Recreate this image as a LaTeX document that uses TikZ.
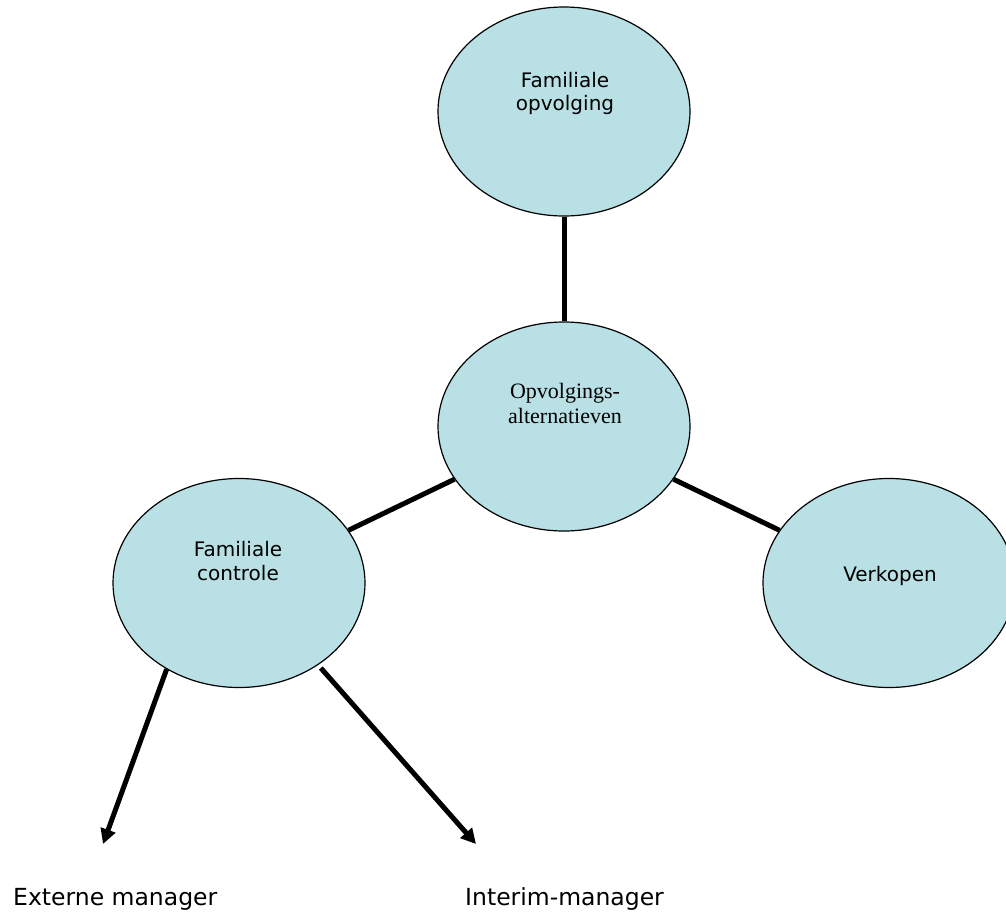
\documentclass[tikz,border=0pt]{standalone}
\usepackage{fontspec}
\usetikzlibrary{shapes.geometric,arrows.meta}
\newfontfamily\labelsans{DejaVu Sans}
\newfontfamily\labelserif{Liberation Serif}
\definecolor{bubblefill}{RGB}{185,224,228}
\begin{document}
\begin{tikzpicture}[x=1pt,y=-1pt,
  bubble/.style={ellipse, draw=black, line width=1.2pt, fill=bubblefill,
    minimum width=252pt, minimum height=209pt, inner sep=0pt},
  sanstext/.style={anchor=base, inner sep=0pt,
    font=\labelsans\fontsize{20}{23}\selectfont},
  seriftext/.style={anchor=base, inner sep=0pt,
    font=\labelserif\fontsize{22}{25}\selectfont},
  outcome/.style={anchor=base west, inner sep=0pt,
    font=\labelsans\fontsize{23.5}{27}\selectfont},
  link/.style={line width=5pt},
  choice/.style={line width=5pt, -{Triangle[length=15pt,width=15pt]}}
]
\useasboundingbox (0,0) rectangle (1006,913);
\clip (0,0) rectangle (1006,913);

% the four alternatives
\node[bubble] (fo) at (564,111.5) {};
\node[bubble] (oa) at (564,426.5) {};
\node[bubble] (fc) at (239,583) {};
\node[bubble] (vk) at (889,583) {};

% texts inside the bubbles
\node[sanstext] (fo1) at (565,87) {Familiale};
\node[sanstext] (fo2) at (565,110) {opvolging};
\node[seriftext] (oa1) at (565,398) {Opvolgings-};
\node[seriftext] (oa2) at (565,423) {alternatieven};
\node[sanstext] (fc1) at (238,556) {Familiale};
\node[sanstext] (fc2) at (238,580) {controle};
\node[sanstext] (vk1) at (890,581) {Verkopen};

% links between the bubbles
\draw[link] (fo) -- (oa);
\draw[link] (oa) -- (fc);
\draw[link] (oa) -- (vk);

% options under family control
\coordinate (tipA) at (103,844);
\coordinate (tipB) at (476,844);
\draw[choice] (fc.230.5) -- (tipA);
\draw[choice, shorten <=4pt] (fc.314.7) -- (tipB);

\node[outcome] (em) at (13,905) {Externe manager};
\node[outcome] (im) at (465,905) {Interim-manager};
\end{tikzpicture}
\end{document}
